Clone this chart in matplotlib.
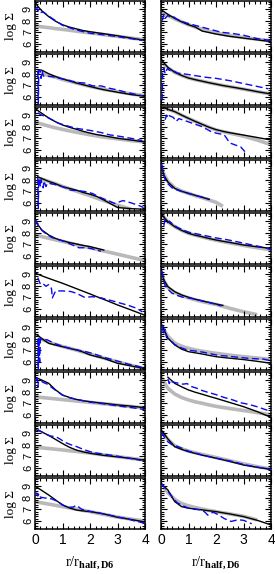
import matplotlib
matplotlib.use("Agg")
import matplotlib.pyplot as plt
from matplotlib.ticker import MultipleLocator
import numpy as np

plt.rcParams["mathtext.fontset"] = "custom"
plt.rcParams["mathtext.rm"] = "Liberation Serif"
plt.rcParams["mathtext.bf"] = "Liberation Serif:bold"
plt.rcParams["font.family"] = "Liberation Sans"

# radius grid shared by the black (simulation) and gray (fit) profiles
r_grid = [0, 0.1, 0.25, 0.5, 0.75, 1, 1.25, 1.5, 1.75, 2, 2.25, 2.5, 3, 3.5, 4]
N = None

# panels in reading order: left, right, left, right, ...
black_prof = [
    [9.6, 9.25, 8.85, 8.35, 7.95, 7.65, 7.45, 7.3, 7.15, 7.05, 6.96, 6.88, 6.7, 6.5, 6.3],
    [8.95, 8.8, 8.55, 8.2, 7.9, 7.65, 7.45, 7.1, 6.98, 6.85, 6.75, 6.65, 6.5, 6.35, 6.2],
    [N, 8.35, 8.3, 8.0, 7.75, 7.55, 7.38, 7.2, 7.05, 6.9, 6.75, 6.62, 6.4, 6.2, 6.05],
    [9.3, 8.95, 8.55, 8.12, 7.85, 7.63, 7.48, 7.35, 7.22, 7.1, 6.98, 6.88, 6.68, 6.45, 6.25],
    [9.6, 9.4, 9.15, 8.75, 8.42, 8.15, 7.95, 7.78, 7.6, 7.45, 7.32, 7.22, 7.0, 6.85, 6.68],
    [9.75, 9.65, 9.5, 9.3, 9.0, 8.72, 8.45, 8.2, 7.95, 7.75, 7.6, 7.48, 7.28, 7.07, 6.85],
    [N, 8.25, 8.1, 7.85, 7.65, 7.4, 7.25, 7.1, 6.9, 6.75, 6.55, 6.25, 5.6, 5.5, 5.45],
    [9.4, 8.4, 7.8, 7.25, 7.0, 6.83, 6.65, 6.48, 6.3, N, N, N, N, N, N],
    [9.2, 8.7, 8.23, 7.8, 7.5, 7.31, 7.15, 7.03, 6.9, 6.8, 6.65, 6.5, N, N, N],
    [9.7, 9.35, 8.95, 8.52, 8.2, 7.95, 7.78, 7.65, 7.5, 7.37, 7.26, 7.16, 6.94, 6.78, 6.65],
    [9.07, 9.0, 8.85, 8.63, 8.42, 8.21, 7.98, 7.75, 7.52, 7.29, 7.05, 6.82, 6.34, 5.9, 5.45],
    [9.4, 8.5, 7.92, 7.48, 7.2, 7.0, 6.83, 6.68, 6.55, 6.42, 6.3, N, N, N, N],
    [8.4, 8.3, 8.0, 7.6, 7.45, 7.31, 7.17, 7.03, 6.85, 6.6, 6.45, 6.31, 5.88, 5.65, 5.42],
    [9.3, 8.85, 8.05, 7.46, 7.1, 6.88, 6.78, 6.68, 6.56, 6.45, 6.38, 6.32, 6.2, 6.05, 5.88],
    [9.25, 9.15, 9.0, 8.72, 8.15, 7.72, 7.5, 7.34, 7.22, 7.14, 7.06, 7.0, 6.86, 6.75, 6.62],
    [N, N, 9.25, 8.72, 8.42, 8.15, 7.95, 7.78, 7.6, 7.43, 7.25, 7.07, 6.71, 6.28, 5.79],
    [9.3, 9.25, 9.1, 8.8, 8.45, 8.1, 7.78, 7.54, 7.38, 7.26, 7.17, 7.08, 6.95, 6.82, 6.65],
    [9.3, 9.0, 8.5, 7.83, 7.6, 7.4, 7.25, 7.1, 6.97, 6.83, 6.7, 6.56, 6.25, 6.05, 5.88],
    [9.0, 8.85, 8.62, 8.23, 7.8, 7.37, 7.12, 6.94, 6.86, 6.8, 6.7, 6.6, 6.31, 6.12, 5.9],
    [9.25, 9.0, 8.67, 7.66, 7.23, 7.09, 7.02, 6.95, 6.87, 6.8, 6.7, 6.6, 6.37, 6.05, 5.65],
]

gray_prof = [
    [7.55, 7.52, 7.47, 7.4, 7.32, 7.25, 7.18, 7.1, 7.02, 6.95, 6.88, 6.8, 6.65, 6.5, 6.35],
    [8.7, 8.6, 8.45, 8.15, 7.9, 7.65, 7.45, 7.25, 7.08, 6.95, 6.83, 6.72, 6.55, 6.4, 6.25],
    [N, N, 8.0, 7.85, 7.7, 7.5, 7.35, 7.2, 7.05, 6.9, 6.78, 6.65, 6.45, 6.25, 6.1],
    [9.0, 8.85, 8.5, 8.12, 7.85, 7.63, 7.48, 7.35, 7.22, 7.1, 6.98, 6.88, 6.66, 6.45, 6.25],
    [8.4, 8.33, 8.22, 8.05, 7.9, 7.77, 7.64, 7.52, 7.41, 7.3, 7.2, 7.1, 6.95, 6.8, 6.68],
    [9.75, 9.65, 9.5, 9.3, 9.0, 8.72, 8.45, 8.2, 7.95, 7.72, 7.58, 7.45, 7.18, 6.85, 6.45],
    [N, 8.15, 8.05, 7.85, 7.65, 7.42, 7.22, 7.02, 6.82, 6.62, 6.4, 6.2, 5.8, 5.45, N],
    [9.3, 8.5, 7.85, 7.3, 7.02, 6.82, 6.62, 6.45, 6.25, 6.05, 5.7, N, N, N, N],
    [7.8, 7.75, 7.66, 7.52, 7.38, 7.25, 7.11, 6.97, 6.84, 6.7, 6.56, 6.42, 6.15, 5.87, 5.6],
    [9.7, 9.35, 8.95, 8.52, 8.2, 7.95, 7.78, 7.63, 7.48, 7.35, 7.23, 7.12, 6.9, 6.7, 6.52],
    [N] * 15,
    [9.3, 8.45, 7.85, 7.42, 7.15, 6.95, 6.78, 6.63, 6.5, 6.38, 6.22, 6.05, 5.75, 5.5, N],
    [N, 8.05, 7.95, 7.7, 7.5, 7.33, 7.17, 7.02, 6.85, 6.68, 6.5, 6.33, 6.0, 5.7, 5.4],
    [9.2, 8.8, 8.2, 7.62, 7.35, 7.17, 7.03, 6.92, 6.82, 6.74, 6.66, 6.58, 6.45, 6.33, 6.22],
    [7.57, 7.54, 7.5, 7.44, 7.38, 7.32, 7.26, 7.2, 7.14, 7.08, 7.02, 6.96, 6.84, 6.72, 6.6],
    [9.3, 8.85, 8.29, 7.8, 7.5, 7.29, 7.12, 7.0, 6.86, 6.74, 6.64, 6.55, 6.38, 6.2, 6.0],
    [7.8, 7.77, 7.73, 7.67, 7.61, 7.55, 7.48, 7.42, 7.35, 7.28, 7.2, 7.12, 6.97, 6.82, 6.67],
    [9.1, 8.9, 8.45, 7.9, 7.65, 7.45, 7.3, 7.16, 7.03, 6.9, 6.76, 6.62, 6.35, 6.1, 5.9],
    [7.66, 7.62, 7.55, 7.45, 7.34, 7.23, 7.12, 7.01, 6.9, 6.8, 6.68, 6.56, 6.33, 6.15, 5.98],
    [N, 8.9, 8.45, 7.85, 7.5, 7.3, 7.15, 7.02, 6.9, 6.8, 6.7, 6.6, 6.4, 6.08, N],
]

# blue dashed profiles, each with its own radii
blue_r = [
    [0.05, 0.1, 0.15, 0.2, 0.3, 0.5, 0.75, 1, 1.5, 2, 2.5, 3, 3.5, 3.9],
    [0.05, 0.1, 0.15, 0.25, 0.35, 0.45, 0.6, 0.8, 1.0, 1.4, 1.8, 2.2, 2.6, 3.0, 3.5, 4.0],
    [0.1, 0.12, 0.14, 0.2, 0.22, 0.26, 0.3, 0.4, 0.6, 0.9, 1.2, 1.5, 1.8, 2.1, 2.4, 2.7, 3.0, 3.3, 3.6, 3.9],
    [0.04, 0.05, 0.06, 0.1, 0.15, 0.2, 0.25, 0.3, 0.4, 0.5, 0.6, 0.8, 1.2, 1.6, 2.0, 2.5, 3.0, 3.5, 3.9],
    [0.1, 0.2, 0.3, 0.5, 0.85, 1.2, 1.5, 2.0, 2.4, 2.7, 3.0, 3.3, 3.6, 3.9],
    [0.15, 0.2, 0.25, 0.3, 0.45, 0.55, 0.65, 0.9, 1.2, 1.5, 1.8, 2.0, 2.3, 2.5, 2.9, 3.05],
    [0.1, 0.12, 0.13, 0.15, 0.2, 0.22, 0.3, 0.32, 0.4, 0.45, 0.7, 1.0, 1.3, 1.6, 1.9, 2.1, 2.3, 2.6, 2.9, 3.2, 3.5, 3.8, 3.95],
    [0.02, 0.08, 0.15, 0.25, 0.4, 0.6, 0.8, 1.0, 1.2, 1.4, 1.6, 1.75],
    [0.02, 0.08, 0.15, 0.25, 0.4, 0.6, 0.85, 1.1, 1.35, 1.6, 1.9, 2.1, 2.4],
    [0.1, 0.15, 0.2, 0.3, 0.45, 0.6, 0.8, 1.0, 1.3, 1.6, 2.0, 2.4, 2.8, 3.2, 3.6, 4.0],
    [0.1, 0.2, 0.3, 0.4, 0.5, 0.6, 0.63, 0.75, 1.0, 1.3, 1.5, 1.8, 2.1, 2.4, 2.8, 3.1, 3.4, 3.7, 3.9],
    [0.02, 0.08, 0.15, 0.25, 0.4, 0.6, 0.8, 1.0, 1.3, 1.6, 1.9, 2.2],
    [0.1, 0.12, 0.14, 0.17, 0.2, 0.3, 0.45, 0.7, 1.0, 1.3, 1.6, 1.9, 2.2, 2.5, 2.8, 3.1, 3.4, 3.7, 4.0],
    [0.03, 0.06, 0.1, 0.15, 0.2, 0.3, 0.5, 0.75, 1.0, 1.2, 1.5, 1.8, 2.1, 2.4, 2.7, 3.0, 3.3, 3.7, 4.0],
    [0.04, 0.08, 0.1, 0.13, 0.2, 0.3, 0.45, 0.7, 1.0, 1.3, 1.6, 2.0, 2.4, 2.8, 3.2, 3.6, 4.0],
    [0.25, 0.3, 0.35, 0.4, 0.6, 0.8, 0.95, 1.1, 1.3, 1.5, 1.7, 2.0, 2.3, 2.6, 2.9, 3.2, 3.5, 3.8, 4.0],
    [0.1, 0.25, 0.4, 0.55, 0.75, 0.9, 1.1, 1.3, 1.5, 1.75, 2.0, 2.3, 2.6, 2.9, 3.2, 3.5, 3.85],
    [0.03, 0.08, 0.15, 0.25, 0.4, 0.6, 0.8, 1.0, 1.3, 1.6, 1.9, 2.2, 2.6, 3.0, 3.4, 3.8, 4.0],
    [0.02, 0.06, 0.1, 0.15, 0.2, 0.3, 0.45, 0.6, 0.8, 1.0, 1.2, 1.4, 1.5, 1.7, 2.0, 2.3, 2.6, 3.0, 3.4, 3.7, 4.0],
    [0.03, 0.1, 0.2, 0.3, 0.45, 0.6, 0.8, 1.0, 1.2, 1.45, 1.6, 1.7, 1.9, 2.1, 2.3, 2.55, 2.8, 3.0, 3.3],
]
blue_prof = [
    [9.2, 8.85, 9.0, 8.7, 8.75, 8.4, 8.0, 7.6, 7.2, 6.92, 6.78, 6.62, 6.45, 6.3],
    [8.0, 8.55, 8.2, 8.45, 8.3, 8.35, 8.1, 7.9, 7.75, 7.5, 7.25, 7.0, 6.9, 6.75, 6.45, 6.3],
    [8.2, 5.4, 8.3, 8.2, 7.6, 8.3, 7.8, 7.8, 7.75, 7.6, 7.45, 7.25, 7.2, 6.95, 6.95, 6.75, 6.6, 6.4, 6.25, 6.1],
    [5.7, 6.8, 8.2, 8.5, 8.0, 8.3, 8.45, 8.3, 8.35, 8.2, 8.05, 8.0, 7.85, 7.7, 7.6, 7.4, 7.15, 6.9, 6.7],
    [9.2, 9.05, 8.95, 8.75, 8.3, 8.05, 7.86, 7.68, 7.5, 7.3, 7.2, 7.08, 6.95, 6.8],
    [8.6, 9.0, 8.75, 8.95, 8.8, 8.45, 8.7, 8.5, 8.25, 8.0, 7.6, 7.45, 7.3, 6.6, 6.25, 5.85],
    [8.2, 5.5, 7.4, 8.1, 7.4, 8.0, 7.3, 7.9, 7.4, 7.7, 7.6, 7.4, 7.1, 7.05, 6.95, 6.8, 6.55, 6.25, 5.95, 6.2, 6.0, 5.75, 5.6],
    [9.35, 8.6, 8.0, 7.65, 7.3, 7.1, 6.95, 6.8, 6.68, 6.55, 6.45, 6.32],
    [9.1, 8.75, 8.5, 8.2, 7.9, 7.6, 7.4, 7.22, 6.95, 6.7, 6.7, 6.6, 6.4],
    [8.6, 9.1, 8.8, 9.0, 8.7, 8.45, 8.25, 8.05, 7.9, 7.75, 7.55, 7.4, 7.2, 7.0, 6.8, 6.55],
    [8.7, 8.1, 8.15, 7.95, 8.1, 7.75, 6.95, 7.55, 7.55, 7.5, 7.35, 7.0, 7.05, 6.95, 6.7, 6.5, 6.3, 6.05, 5.75],
    [9.3, 8.7, 8.0, 7.7, 7.35, 7.15, 7.0, 6.95, 6.8, 6.65, 6.45, 6.25],
    [8.0, 5.3, 8.0, 6.0, 8.05, 7.95, 7.9, 7.6, 7.35, 7.15, 7.0, 6.85, 6.65, 6.4, 6.2, 6.0, 5.8, 5.65, 5.45],
    [8.6, 9.1, 8.5, 8.8, 8.1, 7.95, 7.5, 7.2, 7.0, 6.95, 6.85, 6.7, 6.55, 6.5, 6.42, 6.35, 6.28, 6.25, 6.1],
    [9.0, 9.2, 8.4, 8.9, 8.95, 8.8, 8.65, 8.2, 7.7, 7.45, 7.3, 7.1, 6.98, 6.85, 6.72, 6.6, 6.45],
    [9.1, 8.7, 9.0, 8.85, 8.75, 8.65, 8.7, 8.45, 8.3, 8.1, 7.95, 7.75, 7.5, 7.3, 7.05, 6.9, 6.7, 6.45, 6.3],
    [9.3, 9.1, 8.9, 8.75, 8.7, 8.5, 8.2, 8.0, 7.85, 7.6, 7.4, 7.25, 7.15, 7.05, 6.92, 6.8, 6.65],
    [9.1, 8.8, 8.55, 8.25, 8.0, 7.85, 7.65, 7.45, 7.25, 7.05, 6.9, 6.75, 6.55, 6.3, 6.1, 5.95, 5.85],
    [8.3, 8.4, 8.15, 8.35, 8.05, 8.0, 7.95, 7.9, 7.7, 7.4, 7.15, 7.2, 7.35, 7.0, 6.82, 6.7, 6.55, 6.35, 6.15, 5.95, 5.8],
    [9.2, 8.95, 8.7, 8.4, 7.9, 7.55, 7.3, 7.1, 7.0, 6.95, 6.75, 6.5, 6.75, 6.5, 6.2, 5.95, 6.1, 6.05, 5.75],
]

x_ticks = [0, 1, 2, 3, 4]
y_ticks = [6, 7, 8, 9]

W, H = 275, 574
fig = plt.figure(figsize=(W / 100, H / 100), dpi=100)

col_left = [35, 161]
col_width = 110
row_top0, row_step, row_h = 1, 53, 51
n_rows = 10

serif = "Liberation Serif"
r = np.array(r_grid, dtype=float)

for i in range(n_rows * 2):
    row, col = divmod(i, 2)
    top = row_top0 + row * row_step
    ax = fig.add_axes([col_left[col] / W, 1 - (top + row_h) / H, col_width / W, row_h / H])

    gray = np.array(gray_prof[i], dtype=float)
    black = np.array(black_prof[i], dtype=float)
    ax.plot(r, gray, color="#b9b9b9", lw=2.6, solid_capstyle="butt", zorder=1)
    ax.plot(r, black, color="black", lw=1.0, zorder=2)
    ax.plot(blue_r[i], blue_prof[i], color="#0a0aee", lw=1.0,
            dashes=(5, 2.5), zorder=3)

    ax.set_xlim(0, 4)
    ax.set_ylim(5.3, 9.7)
    ax.set_xticks(x_ticks)
    ax.set_yticks(y_ticks)
    ax.xaxis.set_minor_locator(MultipleLocator(0.2))
    ax.yaxis.set_minor_locator(MultipleLocator(0.2))
    ax.tick_params(which="both", direction="in", top=True, right=True, width=0.8)
    ax.tick_params(which="major", length=4)
    ax.tick_params(which="minor", length=2)
    ax.tick_params(axis="y", labelrotation=90, labelsize=8, pad=1.5)
    ax.tick_params(axis="x", labelsize=10, pad=3)
    for sp in ax.spines.values():
        sp.set_linewidth(1.1)

    if col == 1:
        ax.set_yticklabels([])
    else:
        for lab in ax.get_yticklabels():
            lab.set_va("center")
        fig.text(11 / W, 1 - (top + row_h / 2) / H, "log \u03a3", rotation=90,
                 ha="center", va="center", fontsize=9.5, family=serif)
    if row != n_rows - 1:
        ax.set_xticklabels([])

for col in range(2):
    fig.text((col_left[col] + col_width / 2) / W, 1 - 563 / H,
             r"$\mathrm{r/r}_{\mathbf{half,D6}}$",
             ha="center", va="center", fontsize=10.5)

fig.savefig("out.png", dpi=100)
